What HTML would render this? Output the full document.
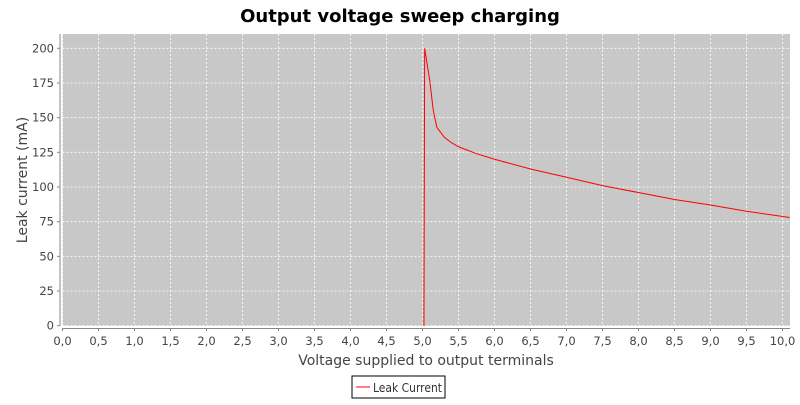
<!DOCTYPE html>
<html><head><meta charset="utf-8"><style>
body{margin:0;background:#fff;}
svg text{font-family:"DejaVu Sans","Liberation Sans",sans-serif;}
</style></head><body>
<svg id="chart" width="800" height="400" xmlns="http://www.w3.org/2000/svg">
<rect width="800" height="400" fill="#fff"/>
<text x="400" y="22" text-anchor="middle" font-size="18" font-weight="bold" fill="#000">Output voltage sweep charging</text>
<rect x="62.5" y="34" width="727.5" height="292" fill="#c8c8c8"/>
<g id="grid"></g>
<g id="axes"></g>
<polyline id="series" fill="none" stroke="#ff0000" stroke-width="1"/>
<text transform="translate(27,180) rotate(-90)" text-anchor="middle" font-size="14" fill="#444">Leak current (mA)</text>
<text x="426" y="365" text-anchor="middle" font-size="14" fill="#444">Voltage supplied to output terminals</text>
<g>
<rect x="352" y="376" width="93" height="22" fill="#fff" stroke="#000"/>
<line x1="356" y1="387" x2="370" y2="387" stroke="#ff0000"/>
<text x="373" y="392" font-size="12" fill="#333" textLength="69" lengthAdjust="spacingAndGlyphs">Leak Current</text>
</g>
</svg>
<script>
const xs=[5.02,5.03,5.1,5.15,5.2,5.3,5.4,5.5,5.75,6.0,6.5,7.0,7.5,8.0,8.5,9.0,9.5,10.1];
const ys=[0,200,177,155,143,136,132,129,124,120,113,107,101,96,91,87,82.5,78];
const xTicks=[0,0.5,1,1.5,2,2.5,3,3.5,4,4.5,5,5.5,6,6.5,7,7.5,8,8.5,9,9.5,10];
const yTicks=[0,25,50,75,100,125,150,175,200];
const X=v=>62.5+v*72, Y=v=>325.7-v*1.387;
const NS="http://www.w3.org/2000/svg";
const grid=document.getElementById('grid'),axes=document.getElementById('axes');
function mk(tag,attrs,parent){const e=document.createElementNS(NS,tag);for(const k in attrs)e.setAttribute(k,attrs[k]);parent.appendChild(e);return e;}
xTicks.forEach(t=>{
 const g=mk('line',{x1:X(t),x2:X(t),y1:34,y2:326,stroke:'#fff','stroke-dasharray':'2,2','stroke-width':0.8},grid);
 
 
 mk('line',{x1:X(t),x2:X(t),y1:328,y2:331,stroke:'#888'},axes);
 const l=mk('text',{x:X(t),y:345,'text-anchor':'middle','font-size':11.5,fill:'#444'},axes);
 l.textContent=t.toFixed(1).replace('.',',');
 
 
});
yTicks.forEach(t=>{
 const g=mk('line',{x1:62.5,x2:790,y1:Y(t),y2:Y(t),stroke:'#fff','stroke-dasharray':'2,2','stroke-width':0.8},grid);
 
 
 mk('line',{x1:57,x2:60,y1:Y(t),y2:Y(t),stroke:'#888'},axes);
 const l=mk('text',{x:54,y:Y(t)+4,'text-anchor':'end','font-size':11.5,fill:'#444'},axes);
 l.textContent=t;
 
 
});
mk('line',{x1:60,x2:60,y1:34,y2:326,stroke:'#888'},axes);
mk('line',{x1:62.5,x2:790,y1:328.5,y2:328.5,stroke:'#888'},axes);
document.getElementById('series').setAttribute('points',xs.map((x,i)=>X(x)+','+Y(ys[i])).join(' '));
</script>
</body></html>
